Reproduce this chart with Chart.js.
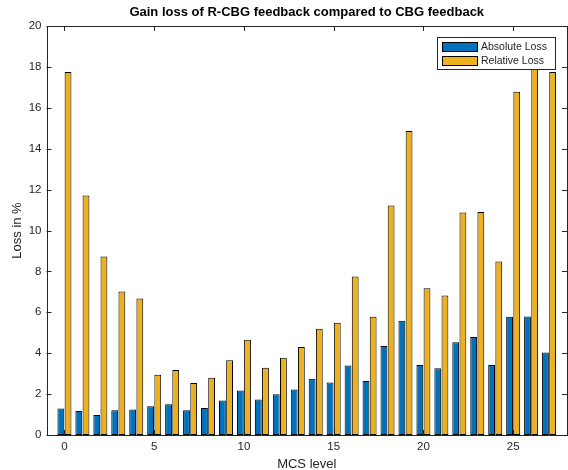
<!DOCTYPE html>
<html>
<head>
<meta charset="utf-8">
<script src="https://cdn.jsdelivr.net/npm/chart.js@4/dist/chart.umd.min.js"></script>
<style>
  html, body { margin: 0; padding: 0; background: #fff; }
  #wrap { width: 568px; height: 470px; }
</style>
</head>
<body>
<div id="wrap"><canvas id="chart"></canvas></div>
<script>
// MCS levels on the x axis
const mcsLevels = [0, 1, 2, 3, 4, 5, 6, 7, 8, 9, 10, 11, 12, 13, 14, 15, 16, 17, 18, 19, 20, 21, 22, 23, 24, 25, 26, 27];
// loss values in %
const absoluteLoss = [1.30, 1.17, 0.98, 1.21, 1.25, 1.40, 1.50, 1.21, 1.32, 1.69, 2.18, 1.74, 1.99, 2.23,
                      2.75, 2.57, 3.40, 2.64, 4.35, 5.59, 3.42, 3.27, 4.53, 4.79, 3.42, 5.78, 5.80, 4.04];
const relativeLoss = [17.75, 11.71, 8.73, 7.02, 6.68, 2.95, 3.18, 2.54, 2.80, 3.66, 4.66, 3.29, 3.78, 4.30,
                      5.20, 5.49, 7.75, 5.78, 11.22, 14.87, 7.17, 6.82, 10.88, 10.91, 8.49, 16.78, 19.0, 17.75];
const xTicks = [0, 5, 10, 15, 20, 25];
const seriesNames = ["Absolute Loss", "Relative Loss"];

const axisColor = "#262626";
const font = "'Liberation Sans', Arial, Helvetica, sans-serif";

// MATLAB-like box with inward ticks on all four sides
const boxPlugin = {
    id: "box",
    afterDatasetsDraw(chart) {
        const { ctx, chartArea: a, scales } = chart;
        const len = 5;
        ctx.save();
        ctx.strokeStyle = axisColor;
        ctx.lineWidth = 1;
        ctx.beginPath();
        scales.x.ticks.forEach(t => {
            const px = Math.round(scales.x.getPixelForValue(t.value)) + 0.5;
            ctx.moveTo(px, a.bottom); ctx.lineTo(px, a.bottom - len);
            ctx.moveTo(px, a.top); ctx.lineTo(px, a.top + len);
        });
        scales.y.ticks.forEach(t => {
            const py = Math.round(scales.y.getPixelForValue(t.value)) + 0.5;
            ctx.moveTo(a.left, py); ctx.lineTo(a.left + len, py);
            ctx.moveTo(a.right, py); ctx.lineTo(a.right - len, py);
        });
        ctx.stroke();
        ctx.strokeRect(Math.round(a.left) + 0.5, Math.round(a.top) + 0.5,
                       Math.round(a.right - a.left) - 1, Math.round(a.bottom - a.top));
        ctx.restore();
    }
};

// legend box in the upper right corner of the axes
const legendPlugin = {
    id: "insideLegend",
    afterDraw(chart) {
        const { ctx, chartArea: a } = chart;
        const w = 118, h = 32;
        const x = a.right - 12 - w, y = a.top + 11;
        ctx.save();
        ctx.fillStyle = "#fff";
        ctx.fillRect(x, y, w, h);
        ctx.strokeStyle = axisColor;
        ctx.lineWidth = 1;
        ctx.strokeRect(x + 0.5, y + 0.5, w, h);
        ctx.font = "10.5px " + font;
        ctx.textBaseline = "middle";
        chart.data.datasets.forEach((ds, i) => {
            const sy = y + 5 + i * 14;
            ctx.fillStyle = ds.backgroundColor;
            ctx.fillRect(x + 5, sy, 36, 10);
            ctx.strokeStyle = "#000";
            ctx.strokeRect(x + 5.5, sy + 0.5, 35, 9);
            ctx.fillStyle = axisColor;
            ctx.fillText(ds.label, x + 44, sy + 5.5);
        });
        ctx.restore();
    }
};

new Chart(document.getElementById("chart"), {
    type: "bar",
    data: {
        datasets: [
            {
                label: seriesNames[0],
                data: mcsLevels.map((m, i) => ({ x: m, y: absoluteLoss[i] })),
                backgroundColor: "#0072BD",
                borderColor: "#000",
                borderWidth: 1,
                borderSkipped: false,
                categoryPercentage: 0.8,
                barPercentage: 0.95
            },
            {
                label: seriesNames[1],
                data: mcsLevels.map((m, i) => ({ x: m, y: relativeLoss[i] })),
                backgroundColor: "#EDB120",
                borderColor: "#000",
                borderWidth: 1,
                borderSkipped: false,
                categoryPercentage: 0.8,
                barPercentage: 0.95
            }
        ]
    },
    options: {
        responsive: true,
        maintainAspectRatio: false,
        animation: false,
        layout: { padding: { left: 0, right: 1, top: 0, bottom: 0 } },
        plugins: {
            legend: { display: false },
            tooltip: { enabled: false },
            title: {
                display: true,
                fullSize: false,
                text: "Gain loss of R-CBG feedback compared to CBG feedback",
                color: "#000",
                font: { family: font, size: 13, weight: "bold" },
                padding: { top: 5, bottom: 5.4 }
            }
        },
        scales: {
            x: {
                type: "linear",
                min: -1,
                max: 28,
                offset: false,
                grid: { display: false, drawTicks: false },
                border: { display: false },
                afterBuildTicks: s => { s.ticks = xTicks.map(v => ({ value: v })); },
                afterFit: s => { s.height = 35; },
                ticks: { color: axisColor, padding: 5, font: { family: font, size: 11.5 }, maxRotation: 0 },
                title: {
                    display: true,
                    text: "MCS level",
                    color: axisColor,
                    font: { family: font, size: 13 },
                    padding: { top: 0, bottom: -2 }
                }
            },
            y: {
                min: 0,
                max: 20,
                grid: { display: false, drawTicks: false },
                border: { display: false },
                afterFit: s => { s.width = 46.5; },
                ticks: { stepSize: 2, color: axisColor, padding: 5, font: { family: font, size: 11.5 } },
                title: {
                    display: true,
                    text: "Loss in %",
                    color: axisColor,
                    font: { family: font, size: 13 },
                    padding: { top: 10, bottom: 0 }
                }
            }
        }
    },
    plugins: [boxPlugin, legendPlugin]
});
</script>
</body>
</html>
